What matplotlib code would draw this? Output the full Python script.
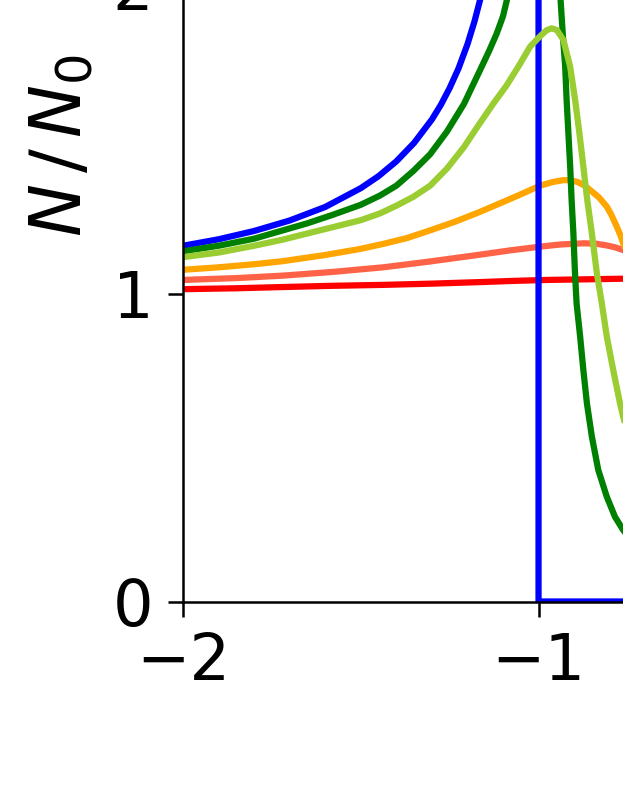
import matplotlib
matplotlib.use("Agg")
import matplotlib.pyplot as plt

# ---- data ----
blue_x = [-2.0, -1.9, -1.8, -1.7, -1.6, -1.5, -1.45, -1.4, -1.35, -1.3, -1.275, -1.25,
          -1.225, -1.2, -1.18, -1.16, -1.14, -1.12, -1.1, -1.05, -1.0, -1.0, -0.7]
blue_y = [1.155, 1.176, 1.203, 1.237, 1.281, 1.342, 1.381, 1.429, 1.489, 1.565, 1.612, 1.667,
          1.731, 1.809, 1.884, 1.973, 2.083, 2.221, 2.400, 3.3, 3.3, 0.0, 0.0]

green_x = [-2.0, -1.9, -1.8, -1.719, -1.65, -1.58, -1.5, -1.446, -1.4, -1.352, -1.305,
           -1.258, -1.21, -1.165, -1.14, -1.118, -1.1, -1.089, -1.06, -1.03, -1.0, -0.97,
           -0.95, -0.938, -0.932, -0.925, -0.921, -0.916, -0.911, -0.907, -0.902, -0.898,
           -0.893, -0.883, -0.874, -0.864, -0.850, -0.832, -0.808, -0.785, -0.762, -0.74]
green_y = [1.137, 1.155, 1.178, 1.205, 1.228, 1.255, 1.288, 1.318, 1.350, 1.398, 1.452,
           1.525, 1.615, 1.724, 1.785, 1.843, 1.90, 1.953, 2.2, 2.45, 2.6, 2.5,
           2.25, 1.953, 1.845, 1.736, 1.628, 1.520, 1.412, 1.304, 1.196, 1.08,
           0.968, 0.860, 0.752, 0.644, 0.535, 0.427, 0.340, 0.275, 0.232, 0.20]

lgreen_x = [-2.0, -1.9, -1.8, -1.719, -1.65, -1.58, -1.5, -1.446, -1.4, -1.352, -1.305,
            -1.258, -1.21, -1.165, -1.125, -1.089, -1.055, -1.024, -0.996, -0.977, -0.963,
            -0.948, -0.93, -0.911, -0.897, -0.885, -0.874, -0.863, -0.850, -0.836, -0.822,
            -0.808, -0.790, -0.771, -0.762, -0.74]
lgreen_y = [1.118, 1.133, 1.155, 1.175, 1.195, 1.215, 1.238, 1.260, 1.285, 1.314, 1.350,
            1.405, 1.475, 1.553, 1.62, 1.677, 1.74, 1.801, 1.835, 1.855, 1.861,
            1.855, 1.823, 1.736, 1.628, 1.520, 1.412, 1.304, 1.195, 1.066, 0.968,
            0.860, 0.752, 0.644, 0.600, 0.51]

orange_x = [-2.0, -1.9, -1.8, -1.719, -1.6, -1.5, -1.437, -1.37, -1.305, -1.235, -1.165,
            -1.1, -1.05, -0.996, -0.96, -0.93, -0.911, -0.89, -0.87, -0.855, -0.83, -0.808,
            -0.795, -0.78, -0.77, -0.762, -0.74]
orange_y = [1.077, 1.085, 1.095, 1.105, 1.125, 1.145, 1.161, 1.18, 1.205, 1.233, 1.265,
            1.297, 1.322, 1.350, 1.362, 1.368, 1.368, 1.362, 1.350, 1.336, 1.312, 1.282,
            1.255, 1.217, 1.19, 1.163, 1.10]

tomato_x = [-2.0, -1.85, -1.719, -1.58, -1.437, -1.305, -1.165, -1.08, -0.996, -0.94,
            -0.874, -0.84, -0.808, -0.785, -0.762, -0.74]
tomato_y = [1.044, 1.050, 1.058, 1.070, 1.085, 1.104, 1.126, 1.140, 1.152, 1.159,
            1.163, 1.162, 1.156, 1.150, 1.141, 1.13]

red_x = [-2.0, -1.85, -1.719, -1.58, -1.437, -1.3, -1.165, -1.07, -0.977, -0.87, -0.762, -0.74]
red_y = [1.014, 1.017, 1.021, 1.025, 1.028, 1.032, 1.037, 1.041, 1.044, 1.046, 1.048, 1.048]

xticks = [-2, -1]
yticks = [0, 1, 2]
ylabel = r"$N\,/\,N_0$"

# ---- figure ----
W, H = 623, 806
fig = plt.figure(figsize=(W / 100, H / 100), dpi=100)
ax = fig.add_axes([183 / W, (H - 601.5) / H, 462.2 / W, 616 / H])

lw = 4.5
ax.plot(red_x, red_y, color="red", lw=lw)
ax.plot(tomato_x, tomato_y, color="tomato", lw=lw)
ax.plot(orange_x, orange_y, color="orange", lw=lw)
ax.plot(blue_x, blue_y, color="blue", lw=lw)
ax.plot(green_x, green_y, color="green", lw=lw)
ax.plot(lgreen_x, lgreen_y, color="yellowgreen", lw=lw)

ax.set_xlim(-2, -0.7)
ax.set_ylim(0, 2)
ax.set_xticks(xticks)
ax.set_yticks(yticks)
ax.tick_params(labelsize=46, length=10.8, width=1.8, pad=10.5)
for s in ax.spines.values():
    s.set_linewidth(1.8)

fig.text(61 / W, 1 - 145 / H, ylabel, rotation=90, ha="center", va="center", fontsize=51)

fig.savefig("out.png", dpi=100)
